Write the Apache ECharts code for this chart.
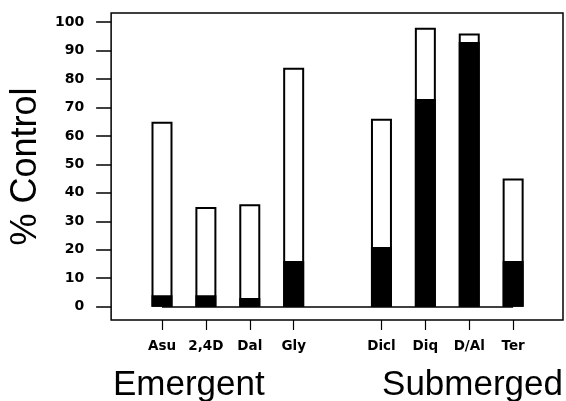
<!DOCTYPE html>
<html>
<head>
<meta charset="utf-8">
<script src="https://cdn.jsdelivr.net/npm/echarts@6/dist/echarts.min.js"></script>
<style>html,body{margin:0;padding:0;background:#fff}#c{width:566px;height:401px}</style>
</head>
<body>
<div id="c"></div>
<script>
// Data (index 4 is the empty gap between the two groups)
var categories = ['Asu', '2,4D', 'Dal', 'Gly', '', 'Dicl', 'Diq', 'D/Al', 'Ter'];
var totalControl = [65, 35, 36, 84, null, 66, 98, 96, 45];
var blackPart = [4, 4, 3, 16, null, 21, 73, 93, 16];
var yTicks = [0, 10, 20, 30, 40, 50, 60, 70, 80, 90, 100];
var groupLabels = ['Emergent', 'Submerged'];
var yTitle = '% Control';

var xTicks = [];
categories.forEach(function (c, i) { if (c) xTicks.push(i); });
function pairs(arr) {
  var out = [];
  arr.forEach(function (v, i) { if (v != null) out.push([i, v]); });
  return out;
}

var chart = echarts.init(document.getElementById('c'), null, {renderer: 'canvas'});
chart.setOption({
  backgroundColor: '#fff',
  animation: false,
  grid: {left: 110, right: 3, top: 13, bottom: 81, show: true, borderColor: '#000', borderWidth: 1.5, backgroundColor: 'transparent'},
  xAxis: {
    type: 'value', min: -1.159, max: 9.136,
    splitLine: {show: false},
    axisLine: {show: false, onZero: false},
    axisTick: {show: true, inside: false, length: 10, customValues: xTicks, lineStyle: {color: '#000', width: 1.2}},
    axisLabel: {customValues: xTicks, margin: 19, color: '#000', fontFamily: 'DejaVu Sans', fontWeight: 'bold', fontSize: 13.5,
      formatter: function (v) { return categories[Math.round(v)] || ''; }}
  },
  yAxis: {
    type: 'value', min: -4.7, max: 103.2,
    splitLine: {show: false},
    axisLine: {show: false, onZero: false},
    axisTick: {show: true, inside: false, length: 15, customValues: yTicks, lineStyle: {color: '#000', width: 1.5}},
    axisLabel: {customValues: yTicks, margin: 27, color: '#000', fontFamily: 'DejaVu Sans', fontWeight: 'bold', fontSize: 14},
    name: yTitle, nameLocation: 'middle', nameGap: 60,
    nameTextStyle: {fontFamily: 'Liberation Sans', fontSize: 36, color: '#000'}
  },
  series: [
    {
      type: 'bar', name: 'total', barWidth: 21, data: pairs(totalControl),
      itemStyle: {color: '#fff', borderColor: '#000', borderWidth: 2},
      markLine: {
        silent: true, symbol: 'none', label: {show: false},
        lineStyle: {color: '#000', width: 1.5, type: 'solid'},
        data: [[{coord: [xTicks[0], 0]}, {coord: [xTicks[xTicks.length - 1], 0]}]]
      }
    },
    {
      type: 'bar', name: 'black', barWidth: 21, barGap: '-100%', data: pairs(blackPart),
      itemStyle: {color: '#000', borderColor: '#000', borderWidth: 2}
    }
  ],
  graphic: [
    {type: 'text', left: 113, top: 368, style: {text: groupLabels[0], font: '35px "Liberation Sans"', fill: '#000'}},
    {type: 'text', right: 3, top: 368, style: {text: groupLabels[1], font: '35px "Liberation Sans"', fill: '#000'}}
  ]
});
</script>
</body>
</html>
